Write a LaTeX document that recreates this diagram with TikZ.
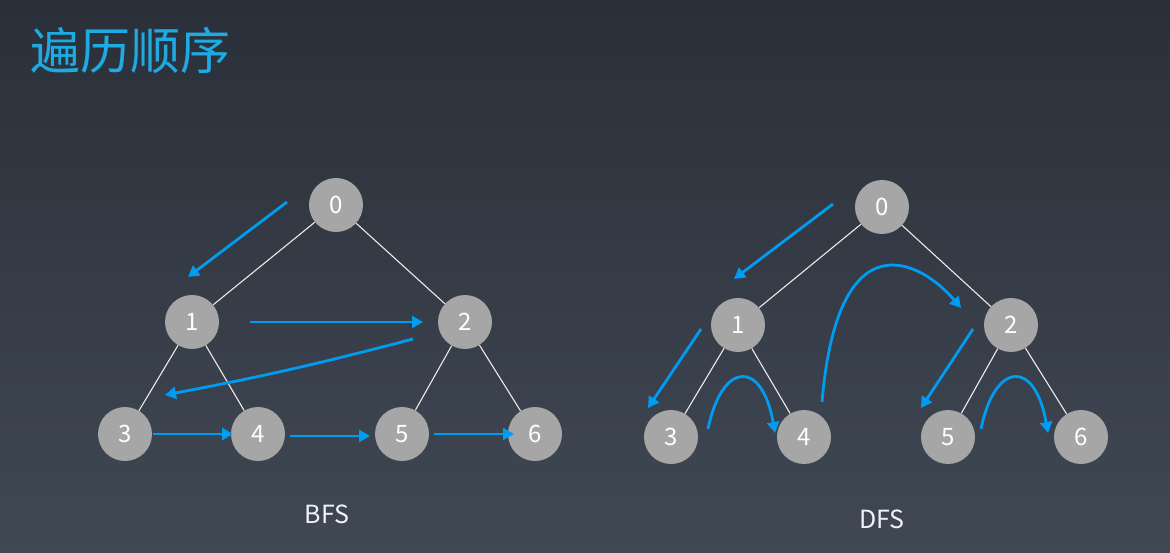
\documentclass[tikz,border=0pt]{standalone}
\usepackage{fontspec}
\setmainfont{Noto Sans CJK SC}
\usetikzlibrary{arrows.meta,positioning}
\definecolor{bgtop}{RGB}{42,48,57}
\definecolor{bgbot}{RGB}{64,72,84}
\definecolor{titleblue}{RGB}{30,170,226}
\definecolor{visitblue}{RGB}{0,156,242}
\definecolor{nodegray}{RGB}{166,166,166}
\tikzset{
    tnode/.style={circle,fill=nodegray,minimum size=54pt,inner sep=0pt,
        text=white,font=\fontsize{24}{24}\selectfont},
    tedge/.style={draw=white!92!black,line width=1.1pt},
    visit/.style={draw=visitblue,line width=2.8pt,
        -{Triangle[length=11pt,width=12pt]}},
    caption/.style={text=white!94!blue,font=\fontsize{25}{25}\selectfont}
}

\begin{document}
\begin{tikzpicture}[x=1pt,y=-1pt]
        \useasboundingbox (0,0) rectangle (1170,553);
        \shade[top color=bgtop,bottom color=bgbot] (0,0) rectangle (1170,553);
        \node[anchor=west,inner sep=0pt,text=titleblue,font=\fontsize{50}{50}\selectfont] (title) at (30,50) {遍历顺序};

        % BFS tree
        \node[tnode] (b0) at (336,205) {0};
        \node[tnode] (b1) at (192,322) {1};
        \node[tnode] (b2) at (465,322) {2};
        \node[tnode] (b3) at (125,434) {3};
        \node[tnode] (b4) at (258,434) {4};
        \node[tnode] (b5) at (402,434) {5};
        \node[tnode] (b6) at (535,434) {6};
        \draw[tedge] (b0) -- (b1) (b0) -- (b2) (b1) -- (b3) (b1) -- (b4) (b2) -- (b5) (b2) -- (b6);
        \node[caption] (bfs) at (327,514) {BFS};

        % BFS order
        \coordinate (ba0) at (287,202); \coordinate (ba1) at (188,277);
        \coordinate (bb0) at (250,322); \coordinate (bb1) at (423,322);
        \coordinate (bc0) at (413,339); \coordinate (bc1) at (165,395);
        \coordinate (bd0) at (153,434); \coordinate (bd1) at (233,434);
        \coordinate (be0) at (290,436); \coordinate (be1) at (370,436);
        \coordinate (bf0) at (434,434); \coordinate (bf1) at (514,434);
        \draw[visit] (ba0) -- (ba1);
        \draw[visit] (bb0) -- (bb1);
        \draw[visit] (bc0) to[bend left=2] (bc1);
        \draw[visit] (bd0) -- (bd1);
        \draw[visit] (be0) -- (be1);
        \draw[visit] (bf0) -- (bf1);

        % DFS tree
        \node[tnode] (d0) at (882,207) {0};
        \node[tnode] (d1) at (738,325) {1};
        \node[tnode] (d2) at (1011,325) {2};
        \node[tnode] (d3) at (671,437) {3};
        \node[tnode] (d4) at (804,437) {4};
        \node[tnode] (d5) at (948,437) {5};
        \node[tnode] (d6) at (1081,437) {6};
        \draw[tedge] (d0) -- (d1) (d0) -- (d2) (d1) -- (d3) (d1) -- (d4) (d2) -- (d5) (d2) -- (d6);
        \node[caption] (dfs) at (882,519) {DFS};

        % DFS order
        \coordinate (da0) at (833,204); \coordinate (da1) at (734,279);
        \coordinate (db0) at (701,329); \coordinate (db1) at (648,408);
        \coordinate (dc0) at (708,429); \coordinate (dc1) at (775,433);
        \coordinate (dd0) at (822,402); \coordinate (dd1) at (961,308);
        \coordinate (de0) at (973,329); \coordinate (de1) at (921,408);
        \coordinate (df0) at (981,429); \coordinate (df1) at (1048,433);
        \draw[visit] (da0) -- (da1);
        \draw[visit] (db0) -- (db1);
        \draw[visit] (dc0) .. controls (722,361) and (762,359) .. (dc1);
        \draw[visit] (dd0) .. controls (838,214) and (922,262) .. (dd1);
        \draw[visit] (de0) -- (de1);
        \draw[visit] (df0) .. controls (995,361) and (1035,359) .. (df1);
\end{tikzpicture}
\end{document}
